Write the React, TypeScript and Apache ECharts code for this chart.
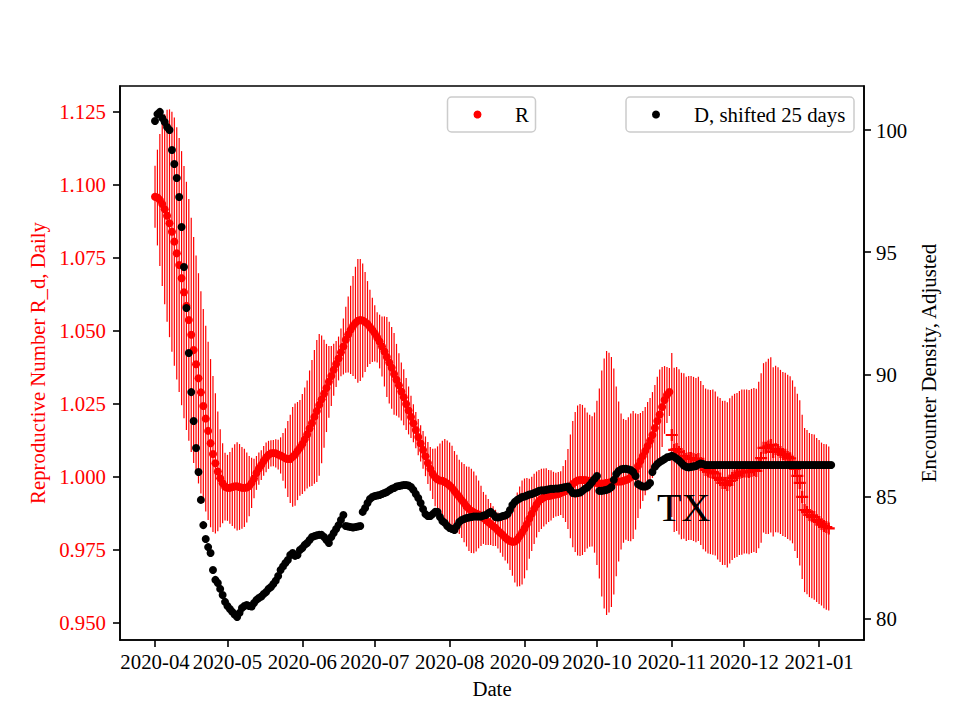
import React, { useEffect, useRef } from "react";
import * as echarts from "echarts";

const START_DATE = "2020-04-01";
const X_TICK_LABELS = ["2020-04", "2020-05", "2020-06", "2020-07", "2020-08", "2020-09", "2020-10", "2020-11", "2020-12", "2021-01"];
const Y_LEFT_TICKS = [0.95, 0.975, 1.0, 1.025, 1.05, 1.075, 1.1, 1.125];
const Y_RIGHT_TICKS = [80, 85, 90, 95, 100];
const LEGEND_R = "R";
const LEGEND_D = "D, shifted 25 days";

// R, daily (dots), Apr 1 .. Oct 31
const rDots = [
  1.0958, 1.0955, 1.0947, 1.0933, 1.0915, 1.0893, 1.0867, 1.0838, 1.0804, 1.0764,
  1.0724, 1.0679, 1.0631, 1.0584, 1.0536, 1.0485, 1.0433, 1.0384, 1.0336, 1.0288,
  1.0241, 1.0198, 1.0156, 1.0114, 1.0077, 1.0045, 1.0017, 0.9994, 0.9977, 0.9965,
  0.9961, 0.9961, 0.9964, 0.9966, 0.9966, 0.9964, 0.9961, 0.9961, 0.9962, 0.9967,
  0.9978, 0.9993, 1.0012, 1.0027, 1.0039, 1.0053, 1.0065, 1.0074, 1.0079, 1.008,
  1.0079, 1.0075, 1.0072, 1.0067, 1.0062, 1.006, 1.006, 1.0067, 1.0075, 1.0087,
  1.0098, 1.0111, 1.0127, 1.0144, 1.0164, 1.0183, 1.0204, 1.0224, 1.0245, 1.0264,
  1.0283, 1.0303, 1.0324, 1.0344, 1.0365, 1.0385, 1.0404, 1.0425, 1.0445, 1.0468,
  1.0486, 1.0502, 1.0515, 1.0526, 1.0533, 1.0536, 1.0534, 1.0529, 1.0522, 1.0512,
  1.0502, 1.049, 1.0476, 1.0462, 1.0445, 1.0428, 1.0409, 1.039, 1.0372, 1.0351,
  1.0331, 1.0312, 1.0291, 1.0271, 1.0248, 1.0226, 1.0204, 1.0182, 1.0159, 1.0135,
  1.0113, 1.0091, 1.0069, 1.0046, 1.0026, 1.0009, 0.9997, 0.999, 0.9986, 0.9985,
  0.9981, 0.9976, 0.9969, 0.9961, 0.995, 0.994, 0.993, 0.9919, 0.9909, 0.9897,
  0.9889, 0.9882, 0.9877, 0.9873, 0.987, 0.9865, 0.9858, 0.9851, 0.9844, 0.9837,
  0.983, 0.9824, 0.9815, 0.9807, 0.98, 0.9791, 0.9784, 0.9779, 0.9776, 0.9777,
  0.9784, 0.9795, 0.9808, 0.9822, 0.9837, 0.9855, 0.9872, 0.9889, 0.9904, 0.9916,
  0.9923, 0.9928, 0.9932, 0.9933, 0.9935, 0.9937, 0.9938, 0.994, 0.9943, 0.9947,
  0.995, 0.9957, 0.9966, 0.9974, 0.9981, 0.9986, 0.9988, 0.9988, 0.9988, 0.9986,
  0.9985, 0.9983, 0.9979, 0.9978, 0.9976, 0.9976, 0.9976, 0.9978, 0.9979, 0.9981,
  0.9983, 0.9983, 0.9983, 0.9983, 0.9985, 0.9988, 0.9991, 0.9997, 1.0005, 1.0017,
  1.0036, 1.0053, 1.007, 1.0087, 1.0104, 1.0122, 1.0142, 1.0166, 1.019, 1.0212,
  1.0238, 1.0262, 1.0279, 1.0289,
];

// R, daily (plus markers), Nov 1 .. Jan 5
const rPlus = [
  1.0142, 1.0091, 1.0094, 1.0084, 1.007, 1.007, 1.006, 1.0063, 1.0063, 1.006,
  1.0056, 1.006, 1.0046, 1.0032, 1.0022, 1.0017, 1.0015, 1.0015, 1.001, 0.9995,
  0.9988, 0.9978, 0.9978, 0.9971, 0.9985, 0.9995, 1.0002, 1.0005, 1.0012, 1.0015,
  1.0017, 1.0017, 1.0015, 1.0019, 1.0022, 1.0019, 1.0039, 1.0063, 1.0098, 1.0098,
  1.0103, 1.0108, 1.0084, 1.0094, 1.0091, 1.0084, 1.0077, 1.0074, 1.0067, 1.0062,
  1.005, 1.0026, 1.0002, 0.9978, 0.993, 0.9885, 0.9878, 0.9868, 0.9864, 0.9861,
  0.9851, 0.9844, 0.9837, 0.983, 0.9827, 0.9822,
];

// half-width of the R error bars, daily
const rErr = [
  0.0106, 0.0164, 0.0226, 0.0281, 0.0325, 0.0363, 0.039, 0.0411, 0.0425, 0.0432,
  0.0435, 0.0435, 0.0432, 0.0425, 0.0414, 0.0401, 0.0387, 0.0373, 0.036, 0.0346,
  0.0332, 0.0318, 0.0305, 0.0288, 0.0267, 0.024, 0.0205, 0.0168, 0.0137, 0.0116,
  0.0113, 0.0123, 0.0134, 0.0144, 0.0151, 0.0147, 0.014, 0.0134, 0.012, 0.0103,
  0.0086, 0.0068, 0.0058, 0.0055, 0.0051, 0.0051, 0.0051, 0.0048, 0.0045, 0.0045,
  0.0048, 0.0051, 0.0062, 0.0082, 0.0103, 0.013, 0.0151, 0.0171, 0.0175, 0.0168,
  0.0164, 0.0171, 0.0178, 0.0185, 0.0199, 0.0216, 0.0229, 0.0243, 0.0243, 0.0219,
  0.0185, 0.0151, 0.0123, 0.0103, 0.0089, 0.0079, 0.0075, 0.0082, 0.0096, 0.0113,
  0.013, 0.0151, 0.0171, 0.0192, 0.0212, 0.0209, 0.0195, 0.0171, 0.0147, 0.0127,
  0.011, 0.0096, 0.0086, 0.0092, 0.0103, 0.012, 0.0137, 0.014, 0.014, 0.014,
  0.0123, 0.011, 0.0099, 0.0096, 0.0089, 0.0082, 0.0072, 0.0065, 0.0062, 0.0062,
  0.0062, 0.0065, 0.0068, 0.0072, 0.0075, 0.0086, 0.0099, 0.0113, 0.0127, 0.0137,
  0.0147, 0.0147, 0.0147, 0.0144, 0.0137, 0.0134, 0.0127, 0.013, 0.0134, 0.0137,
  0.0144, 0.0144, 0.014, 0.013, 0.0116, 0.0103, 0.0089, 0.0086, 0.0079, 0.0072,
  0.0068, 0.0062, 0.0062, 0.0068, 0.0075, 0.0079, 0.0082, 0.0099, 0.0116, 0.014,
  0.0161, 0.0171, 0.0178, 0.0171, 0.0158, 0.0137, 0.0127, 0.012, 0.0113, 0.0106,
  0.0103, 0.0099, 0.0096, 0.0089, 0.0086, 0.0079, 0.0075, 0.0075, 0.0075, 0.0089,
  0.0106, 0.0137, 0.0178, 0.0216, 0.024, 0.0257, 0.026, 0.0257, 0.0247, 0.0233,
  0.0226, 0.0223, 0.024, 0.0281, 0.0325, 0.0387, 0.0428, 0.0452, 0.0445, 0.0428,
  0.0387, 0.0325, 0.0274, 0.0233, 0.0212, 0.0205, 0.0212, 0.0219, 0.0219, 0.0199,
  0.0178, 0.0164, 0.0154, 0.0151, 0.0151, 0.0147, 0.0147, 0.0147, 0.0151, 0.0154,
  0.0137, 0.0116, 0.0096, 0.0082, 0.0281, 0.0281, 0.0281, 0.0283, 0.0285, 0.0283,
  0.0281, 0.0281, 0.0281, 0.0281, 0.0281, 0.0281, 0.0281, 0.0281, 0.0279, 0.0281,
  0.0281, 0.0283, 0.0281, 0.0279, 0.0281, 0.0281, 0.0281, 0.0283, 0.0283, 0.0281,
  0.0281, 0.0281, 0.0281, 0.0283, 0.0281, 0.0281, 0.0281, 0.0281, 0.0281, 0.0281,
  0.0285, 0.029, 0.029, 0.0295, 0.03, 0.03, 0.029, 0.0285, 0.0283, 0.0281,
  0.0281, 0.0281, 0.0281, 0.0281, 0.0279, 0.0281, 0.0281, 0.0283, 0.0281, 0.0281,
  0.0281, 0.0281, 0.0281, 0.0283, 0.0281, 0.0281, 0.0279, 0.0281, 0.0283, 0.0281,
];

// Encounter density, adjusted (shifted 25 days), daily
const dDensity = [
  100.37, 100.65, 100.74, 100.49, 100.33, 100.12, 100.0, 99.18, 98.61, 98.04,
  97.26, 96.03, 94.4, 92.72, 90.88, 89.28, 88.1, 86.99, 86.01, 84.87,
  83.84, 83.27, 82.94, 82.7, 82.0, 81.6, 81.47, 81.23, 80.98, 80.7,
  80.53, 80.41, 80.29, 80.18, 80.08, 80.25, 80.45, 80.53, 80.57, 80.53,
  80.51, 80.65, 80.78, 80.86, 80.92, 81.02, 81.1, 81.23, 81.31, 81.43,
  81.57, 81.76, 82.0, 82.15, 82.29, 82.41, 82.62, 82.7, 82.58, 82.62,
  82.82, 82.9, 83.03, 83.11, 83.23, 83.35, 83.39, 83.42, 83.44, 83.44,
  83.35, 83.23, 83.11, 83.35, 83.52, 83.68, 83.84, 84.05, 84.25, 83.8,
  83.78, 83.76, 83.74, 83.76, 83.78, 83.8, 84.38, 84.54, 84.74, 84.91,
  84.99, 85.03, 85.05, 85.07, 85.11, 85.15, 85.19, 85.26, 85.32, 85.36,
  85.42, 85.44, 85.46, 85.48, 85.48, 85.46, 85.4, 85.28, 85.11, 84.95,
  84.74, 84.5, 84.29, 84.21, 84.21, 84.29, 84.38, 84.38, 84.17, 84.01,
  83.93, 83.8, 83.72, 83.68, 83.64, 83.8, 83.97, 84.05, 84.09, 84.13,
  84.15, 84.17, 84.19, 84.19, 84.19, 84.19, 84.23, 84.25, 84.33, 84.38,
  84.29, 84.17, 84.15, 84.17, 84.21, 84.23, 84.29, 84.46, 84.66, 84.79,
  84.87, 84.93, 84.99, 85.01, 85.05, 85.09, 85.11, 85.15, 85.19, 85.24,
  85.26, 85.26, 85.28, 85.3, 85.32, 85.32, 85.34, 85.34, 85.36, 85.38,
  85.4, 85.42, 85.28, 85.15, 85.13, 85.15, 85.17, 85.24, 85.32, 85.38,
  85.48, 85.6, 85.73, 85.85, 85.24, 85.24, 85.26, 85.28, 85.32, 85.4,
  85.69, 85.93, 86.05, 86.12, 86.14, 86.14, 86.12, 86.09, 86.01, 85.85,
  85.52, 85.46, 85.42, 85.42, 85.46, 85.56, 86.01, 86.22, 86.34, 86.42,
  86.48, 86.54, 86.61, 86.63, 86.67, 86.63, 86.56, 86.48, 86.38, 86.28,
  86.22, 86.2, 86.22, 86.24, 86.26, 86.32, 86.36, 86.34, 86.3, 86.3,
  86.3, 86.3, 86.3, 86.3, 86.3, 86.3, 86.3, 86.3, 86.3, 86.3,
  86.3, 86.3, 86.3, 86.3, 86.3, 86.3, 86.3, 86.3, 86.3, 86.3,
  86.3, 86.3, 86.3, 86.3, 86.3, 86.3, 86.3, 86.3, 86.3, 86.3,
  86.3, 86.3, 86.3, 86.3, 86.3, 86.3, 86.3, 86.3, 86.3, 86.3,
  86.3, 86.3, 86.3, 86.3, 86.3, 86.3, 86.3, 86.3, 86.3, 86.3,
  86.3,
];

const DAY = 86400000;
const FONT = "'Liberation Serif', 'Times New Roman', serif";
const FS = 20.8;

export default function App() {
  const ref = useRef<HTMLDivElement>(null);

  useEffect(() => {
    if (!ref.current) return;
    const chart = echarts.init(ref.current, null, { renderer: "svg" });

    const t0 = Date.parse(START_DATE + "T00:00:00Z");
    const dayTime = (i: number) => t0 + i * DAY;
    const rAll = rDots.concat(rPlus);
    const xTicks = X_TICK_LABELS.map((s) => Date.parse(s + "-01T00:00:00Z"));

    const errData = rAll.map((v, i) => [dayTime(i), v - rErr[i], v + rErr[i]]);
    const dotData = rDots.map((v, i) => [dayTime(i), v]);
    const plusData = rPlus.map((v, i) => [dayTime(rDots.length + i), v]);
    const dData = dDensity.map((v, i) => [dayTime(i), v]);

    const fmtMonth = (v: number) => {
      const d = new Date(v);
      return d.getUTCFullYear() + "-" + String(d.getUTCMonth() + 1).padStart(2, "0");
    };

    const axisLineStyle = { color: "#000", width: 1.6 };

    const legendBox = (x: number, w: number, color: string, label: string, textX: number) => ({
      type: "group",
      z: 20,
      children: [
        {
          type: "rect", z: 20,
          shape: { x, y: 97, width: w, height: 35, r: 4 },
          style: { fill: "rgba(255,255,255,0.85)", stroke: "#cccccc", lineWidth: 1.5 },
        },
        {
          type: "circle", z: 21,
          shape: { cx: x + 30, cy: 114.5, r: 4 },
          style: { fill: color },
        },
        {
          type: "text", z: 21, x: textX, y: 114.5,
          style: { text: label, fontFamily: FONT, fontSize: FS, fill: "#000", verticalAlign: "middle", align: "left" },
        },
      ],
    });

    const option: any = {
      animation: false,
      textStyle: { fontFamily: FONT },
      grid: {
        left: 120, right: 96, top: 86, bottom: 80,
        show: true, borderColor: "#000", borderWidth: 1.6, backgroundColor: "transparent",
      },
      xAxis: {
        type: "value",
        min: t0 - 14.5 * DAY,
        max: t0 + 293.6 * DAY,
        name: "Date", nameLocation: "middle", nameGap: 38,
        nameTextStyle: { fontFamily: FONT, fontSize: FS, color: "#000" },
        axisLine: { show: true, onZero: false, lineStyle: axisLineStyle },
        axisTick: { show: true, customValues: xTicks, length: 7, lineStyle: axisLineStyle },
        axisLabel: {
          customValues: xTicks, formatter: (v: number) => fmtMonth(v),
          fontFamily: FONT, fontSize: FS, color: "#000", margin: 11, hideOverlap: false,
        },
        splitLine: { show: false },
      },
      yAxis: [
        {
          type: "value", position: "left", min: 0.944, max: 1.1337,
          name: "Reproductive Number R_d, Daily", nameLocation: "middle", nameGap: 66, nameRotate: 90,
          nameTextStyle: { fontFamily: FONT, fontSize: FS, color: "red" },
          axisLine: { show: true, onZero: false, lineStyle: axisLineStyle },
          axisTick: { show: true, customValues: Y_LEFT_TICKS, length: 7, lineStyle: axisLineStyle },
          axisLabel: {
            customValues: Y_LEFT_TICKS, formatter: (v: number) => v.toFixed(3),
            fontFamily: FONT, fontSize: FS, color: "red", margin: 14,
          },
          splitLine: { show: false },
        },
        {
          type: "value", position: "right", min: 79.14, max: 101.8,
          name: "Encounter Density, Adjusted", nameLocation: "middle", nameGap: 51, nameRotate: 90,
          nameTextStyle: { fontFamily: FONT, fontSize: FS, color: "#000" },
          axisLine: { show: true, onZero: false, lineStyle: axisLineStyle },
          axisTick: { show: true, customValues: Y_RIGHT_TICKS, length: 7, lineStyle: axisLineStyle },
          axisLabel: {
            customValues: Y_RIGHT_TICKS, formatter: (v: number) => String(v),
            fontFamily: FONT, fontSize: FS, color: "#000", margin: 12,
          },
          splitLine: { show: false },
        },
      ],
      series: [
        {
          type: "custom", name: "R error", yAxisIndex: 0, silent: true, z: 1,
          data: errData,
          encode: { x: 0, y: [1, 2] },
          renderItem: (params: any, api: any) => {
            const x = api.value(0);
            const p1 = api.coord([x, api.value(1)]);
            const p2 = api.coord([x, api.value(2)]);
            return {
              type: "line",
              shape: { x1: p1[0], y1: p1[1], x2: p2[0], y2: p2[1] },
              style: { stroke: "#ff0000", lineWidth: 1.2 },
            };
          },
        },
        {
          type: "scatter", name: LEGEND_R, yAxisIndex: 0, z: 2, silent: true,
          data: dotData, symbol: "circle", symbolSize: 8,
          itemStyle: { color: "#ff0000", opacity: 1 },
        },
        {
          type: "scatter", name: "R (forecast)", yAxisIndex: 0, z: 3, silent: true,
          data: plusData,
          symbol: "path://M0,4.1H10V5.9H0Z M4.1,0H5.9V10H4.1Z", symbolSize: 12,
          itemStyle: { color: "#ff0000", opacity: 1 },
        },
        {
          type: "scatter", name: LEGEND_D, yAxisIndex: 1, z: 4, silent: true,
          data: dData, symbol: "circle", symbolSize: 8,
          itemStyle: { color: "#000000", opacity: 1 },
        },
      ],
      graphic: [
        legendBox(447.5, 88, "#ff0000", LEGEND_R, 515),
        legendBox(626, 228, "#000000", LEGEND_D, 694),
        {
          type: "text", left: 657, top: 487, z: 10,
          style: { text: "TX", fontFamily: FONT, fontSize: 40, fill: "#000" },
        },
      ],
    };

    chart.setOption(option);
    return () => chart.dispose();
  }, []);

  return <div ref={ref} style={{ position: "absolute", left: 0, top: 0, width: 960, height: 720 }} />;
}
